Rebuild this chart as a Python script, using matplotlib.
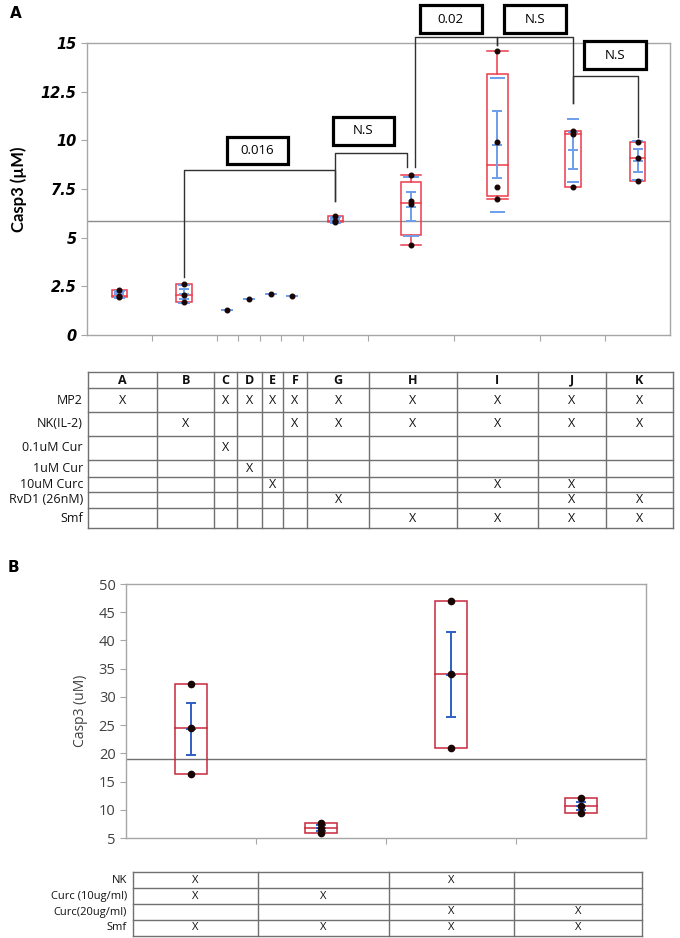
import numpy as np
import matplotlib.pyplot as plt
from matplotlib.patches import Rectangle

# ---------------- data ----------------
groups_a = ['A', 'B', 'C', 'D', 'E', 'F', 'G', 'H', 'I', 'J', 'K']
casp3_a = [
    [1.95, 2.0, 2.3],
    [1.71, 2.03, 2.6],
    [1.27],
    [1.87],
    [2.09],
    [2.0],
    [5.8, 5.85, 6.1],
    [4.6, 6.71, 6.87, 8.22],
    [7.0, 7.6, 9.9, 14.6],
    [7.6, 10.35, 10.49],
    [7.9, 9.07, 9.89],
]
rows_a = ['MP2', 'NK(IL-2)', '0.1uM Cur', '1uM Cur', '10uM Curc', 'RvD1 (26nM)', 'Smf']
marks_a = [
    'X.XXXXXXXXX',
    '.X...XXXXXX',
    '..X........',
    '...X.......',
    '....X...XX.',
    '......X..XX',
    '.......XXXX',
]
# (left group, right group, p label)
compare_a = [(1, 6, '0.016'), (6, 7, 'N.S'), (7, 8, '0.02'), (8, 9, 'N.S'), (9, 10, 'N.S')]

casp3_b = [
    [16.4, 24.4, 32.2],
    [5.8, 6.8, 7.6],
    [20.9, 34.0, 46.9],
    [9.5, 10.7, 12.0],
]
rows_b = ['NK', 'Curc (10ug/ml)', 'Curc(20ug/ml)', 'Smf']
marks_b = ['X.X.', 'XX..', '..XX', 'XXXX']

# ---------------- layout ----------------
W, H = 680, 938
fig = plt.figure(figsize=(W / 100, H / 100), dpi=100)


def px_axes(l, r, t, b):
    return fig.add_axes([l / W, 1 - b / H, (r - l) / W, (b - t) / H])


def draw_group(ax, v, x0, w, red, blue, sd_lines, ms):
    v = np.array(v, dtype=float)
    xc = x0 + w / 2
    bw = 0.24 * w
    m = v.mean()
    if len(v) > 1:
        q1, med, q3 = np.percentile(v, [25, 50, 75], method='weibull')
        iqr = q3 - q1
        lo = v[v >= q1 - 1.5 * iqr].min()
        hi = v[v <= q3 + 1.5 * iqr].max()
        ax.add_patch(Rectangle((xc - bw / 2, q1), bw, q3 - q1, fill=False, ec=red, lw=1.1, zorder=3))
        ax.plot([xc - bw / 2, xc + bw / 2], [med, med], color=red, lw=1.1, zorder=3)
        if hi > q3 + 1e-9:
            ax.plot([xc, xc], [q3, hi], color=red, lw=1.1, zorder=3)
            ax.plot([xc - bw / 2, xc + bw / 2], [hi, hi], color=red, lw=1.1, zorder=3)
        if lo < q1 - 1e-9:
            ax.plot([xc, xc], [lo, q1], color=red, lw=1.1, zorder=3)
            ax.plot([xc - bw / 2, xc + bw / 2], [lo, lo], color=red, lw=1.1, zorder=3)
        sd = v.std(ddof=1)
        se = sd / np.sqrt(len(v))
        ax.errorbar([xc], [m], yerr=[se], color=blue, lw=1.4, capsize=3.5, capthick=1.4, zorder=4)
        ax.plot([xc], [m], marker='_', ms=7, mew=1.4, color=blue, zorder=4)
        if sd_lines:
            ax.hlines([m - sd, m + sd], xc - 0.37 * bw, xc + 0.37 * bw, color=blue, lw=1.4, zorder=4)
    else:
        ax.plot([xc], [m], marker='_', ms=8, mew=1.4, color=blue, zorder=4)
    ax.plot([xc] * len(v), v, 'o', ms=ms, color='#1a0505', zorder=5)


def style_axes(ax):
    for s in ax.spines.values():
        s.set_color('#a6a6a6')
        s.set_linewidth(1.0)
    ax.tick_params(axis='x', direction='out', length=4, color='#a6a6a6', labelbottom=False)
    ax.tick_params(axis='y', direction='out', length=4, color='#a6a6a6')


# ---------------- panel A ----------------
axA = px_axes(87, 670, 43, 335)
n_a = [len(v) for v in casp3_a]
edges_a = np.concatenate([[0], np.cumsum(n_a)])
centers_a = (edges_a[:-1] + edges_a[1:]) / 2
red_a, blue_a = '#ee3b4b', '#6d9eeb'
for i, v in enumerate(casp3_a):
    draw_group(axA, v, edges_a[i], n_a[i], red_a, blue_a, True, 3.3)
grand_a = np.mean(np.concatenate(casp3_a))
axA.axhline(grand_a, color='#8c8c8c', lw=1.0, zorder=2)
axA.set_xlim(0, edges_a[-1])
axA.set_ylim(0, 15)
axA.set_xticks(edges_a[1:-1])
axA.set_yticks(np.arange(0, 15.1, 2.5))
axA.set_yticklabels(['%g' % t for t in np.arange(0, 15.1, 2.5)],
                    fontsize=10.5, fontweight='bold', fontstyle='italic')
style_axes(axA)
axA.set_ylabel('Casp3 (µM)', fontsize=12, fontweight='bold', family='Lato', labelpad=10)

# significance brackets: (x left offset, left foot, bar, right offset, right foot, box x shift, box y)
bracket_layout = [
    (0, 3.0, 8.48, 0, 6.9, -0.1, 9.47),
    (0, 6.9, 9.33, -0.2, 8.64, -0.35, 10.48),
    (0.2, 8.64, 15.29, 0, 14.9, -0.25, 16.23),
    (0, 14.9, 15.29, 0, 11.9, 0.0, 16.23),
    (0, 11.9, 13.3, 0, 10.18, 0.45, 14.38),
]
for (gl, gr, lab), (dl, yl, yb, dr, yr, bx, by) in zip(compare_a, bracket_layout):
    xl = centers_a[gl] + dl
    xr = centers_a[gr] + dr
    axA.plot([xl, xl, xr, xr], [yl, yb, yb, yr], color='#303030', lw=1.0, clip_on=False, zorder=6)
    cx = (xl + xr) / 2 + bx
    bwid, bht = 2.85, 1.42
    axA.add_patch(Rectangle((cx - bwid / 2, by - bht / 2), bwid, bht, fc='white', ec='black',
                            lw=2.3, clip_on=False, zorder=7))
    axA.text(cx, by, lab, ha='center', va='center', fontsize=9.5, family='Open Sans', zorder=8)

# ---------------- panel B ----------------
axB = px_axes(126, 646, 584, 838)
n_b = [len(v) for v in casp3_b]
edges_b = np.concatenate([[0], np.cumsum(n_b)])
red_b, blue_b = '#c8283c', '#2f5fc4'
for i, v in enumerate(casp3_b):
    draw_group(axB, v, edges_b[i], n_b[i], red_b, blue_b, False, 4.5)
grand_b = np.mean(np.concatenate(casp3_b))
axB.axhline(grand_b, color='#707070', lw=1.0, zorder=2)
axB.set_xlim(0, edges_b[-1])
axB.set_ylim(5, 50)
axB.set_xticks(edges_b[1:-1])
axB.set_yticks(np.arange(5, 51, 5))
axB.set_yticklabels([str(t) for t in range(5, 51, 5)], fontsize=10.5, color='#404040', family='Open Sans')
style_axes(axB)
axB.set_ylabel('Casp3 (uM)', fontsize=10, color='#404040', family='Open Sans', labelpad=8)

# ---------------- tables (pixel overlay) ----------------
ov = fig.add_axes([0, 0, 1, 1])
ov.set_xlim(0, W)
ov.set_ylim(H, 0)
ov.axis('off')

fontA = dict(family='Open Sans', fontsize=9, color='#111111')
fontB = dict(family='Open Sans', fontsize=8, color='#111111')
col_a = [88.3, 157.3, 214.3, 236.7, 261.7, 282.7, 307.3, 369.3, 456.7, 537.7, 606, 672.7]
row_a = [371.7, 388.3, 411.7, 435.7, 460, 476.7, 491.7, 507.7, 528.3]
for x in col_a:
    ov.plot([x, x], [row_a[0], row_a[-1]], color='#707070', lw=1.0)
for y in row_a:
    ov.plot([col_a[0], col_a[-1]], [y, y], color='#707070', lw=1.0)
for j, g in enumerate(groups_a):
    ov.text((col_a[j] + col_a[j + 1]) / 2, (row_a[0] + row_a[1]) / 2, g,
            ha='center', va='center', fontweight='bold', **fontA)
for i, name in enumerate(rows_a):
    yc = (row_a[i + 1] + row_a[i + 2]) / 2
    ov.text(83, yc, name, ha='right', va='center', **fontA)
    for j, c in enumerate(marks_a[i]):
        if c == 'X':
            ov.text((col_a[j] + col_a[j + 1]) / 2, yc, 'X', ha='center', va='center', **fontA)

col_b = [133, 258, 389, 514, 642]
row_b = [872.3, 888.3, 904, 920, 936]
for x in col_b:
    ov.plot([x, x], [row_b[0], row_b[-1]], color='#707070', lw=1.0)
for y in row_b:
    ov.plot([col_b[0], col_b[-1]], [y, y], color='#707070', lw=1.0)
for i, name in enumerate(rows_b):
    yc = (row_b[i] + row_b[i + 1]) / 2
    ov.text(127, yc, name, ha='right', va='center', **fontB)
    for j, c in enumerate(marks_b[i]):
        if c == 'X':
            ov.text((col_b[j] + col_b[j + 1]) / 2, yc, 'X', ha='center', va='center', **fontB)

ov.text(10, 14, 'A', ha='left', va='center', fontsize=11, fontweight='bold')
ov.text(8, 568, 'B', ha='left', va='center', fontsize=11, fontweight='bold')

fig.savefig('out.png', dpi=100)
